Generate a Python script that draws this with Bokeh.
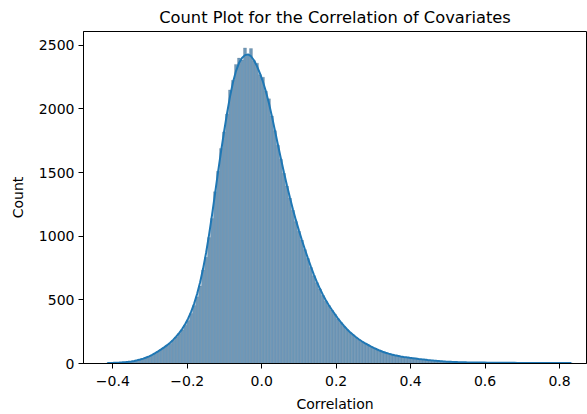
import numpy as np
from bokeh.plotting import figure
from bokeh.models import FixedTicker, Range1d
from bokeh.embed import file_html
from bokeh.resources import INLINE

# ---- data ----
data_min = -0.419
data_max = 0.836
counts = [
    3, 4, 5, 6, 7, 9, 10, 12, 15, 19,
    24, 30, 37, 45, 55, 65, 78, 95, 110, 126,
    142, 158, 182, 208, 235, 264, 300, 338, 393, 455,
    524, 610, 735, 835, 990, 1140, 1350, 1510, 1690, 1820,
    1960, 2150, 2225, 2350, 2400, 2385, 2480, 2420, 2475, 2380,
    2360, 2270, 2250, 2140, 2080, 1945, 1830, 1715, 1605, 1495,
    1395, 1300, 1205, 1115, 1040, 970, 895, 825, 755, 690,
    635, 585, 535, 490, 455, 420, 388, 352, 322, 292,
    268, 245, 226, 206, 188, 172, 160, 147, 134, 122,
    111, 100, 91, 84, 77, 70, 64, 60, 55, 51,
    48, 45, 42, 39, 36, 33, 30, 28, 26, 23,
    21, 19, 17, 15, 14, 13, 12, 11, 10, 9,
    9, 8, 8, 8, 7, 7, 7, 7, 6, 6,
    6, 6, 6, 5, 5, 5, 5, 5, 5, 4,
    4, 4, 4, 4, 4, 4, 3, 3, 3, 3,
    3, 3, 3, 3, 3, 3,
]
x_ticks = [-0.4, -0.2, 0.0, 0.2, 0.4, 0.6, 0.8]
x_tick_labels = ["\u22120.4", "\u22120.2", "0.0", "0.2", "0.4", "0.6", "0.8"]
y_ticks = [0, 500, 1000, 1500, 2000, 2500]
title_text = "Count Plot for the Correlation of Covariates"
x_label = "Correlation"
y_label = "Count"

# ---- derived geometry ----
counts_arr = np.array(counts, dtype=float)
n = len(counts_arr)
edges = np.linspace(data_min, data_max, n + 1)
centers = 0.5 * (edges[:-1] + edges[1:])

# KDE-like smoothing of the histogram counts
sig = 1.6
k = np.arange(-6, 7)
kern = np.exp(-0.5 * (k / sig) ** 2)
kern /= kern.sum()
padded = np.concatenate([np.full(6, counts_arr[0]), counts_arr, np.full(6, counts_arr[-1])])
kde = np.convolve(padded, kern, mode="valid")

FONT = "DejaVu Sans"

p = figure(
    output_backend="svg", toolbar_location=None,
    width=587, height=414,
    min_border_left=83, min_border_right=1, min_border_top=29, min_border_bottom=50,
    x_range=Range1d(-0.4787, 0.8725), y_range=Range1d(0, 2609),
    title=title_text,
)
p.title.align = "center"
p.title.text_font = FONT
p.title.text_font_size = "16.3px"
p.title.text_font_style = "normal"
p.title.text_color = "#000000"
p.title.standoff = 10

p.quad(left=edges[:-1], right=edges[1:], bottom=0, top=counts_arr,
       fill_color="#6f98b8", line_color="#3d5f7c", line_alpha=0.35, line_width=0.6)
p.line(centers, kde, line_color="#1f77b4", line_width=2)

p.xgrid.visible = False
p.ygrid.visible = False
p.outline_line_color = "#000000"
p.outline_line_width = 1

for ax in (p.xaxis[0], p.yaxis[0]):
    ax.major_label_text_font = FONT
    ax.major_label_text_font_size = "14px"
    ax.major_label_text_color = "#000000"
    ax.axis_label_text_font = FONT
    ax.axis_label_text_font_size = "14px"
    ax.axis_label_text_font_style = "normal"
    ax.axis_label_text_color = "#000000"
    ax.minor_tick_line_color = None
    ax.major_tick_in = 0
    ax.major_tick_out = 5
    ax.axis_line_color = "#000000"
    ax.major_tick_line_color = "#000000"

p.xaxis.ticker = FixedTicker(ticks=x_ticks)
p.xaxis.major_label_overrides = {t: l for t, l in zip(x_ticks, x_tick_labels)}
p.yaxis.ticker = FixedTicker(ticks=y_ticks)
p.xaxis.axis_label = x_label
p.yaxis.axis_label = y_label
p.xaxis.major_label_standoff = 7
p.yaxis.major_label_standoff = 4
p.xaxis.axis_label_standoff = 7
p.yaxis.axis_label_standoff = 10

open("out.html", "w").write(file_html(p, INLINE))
